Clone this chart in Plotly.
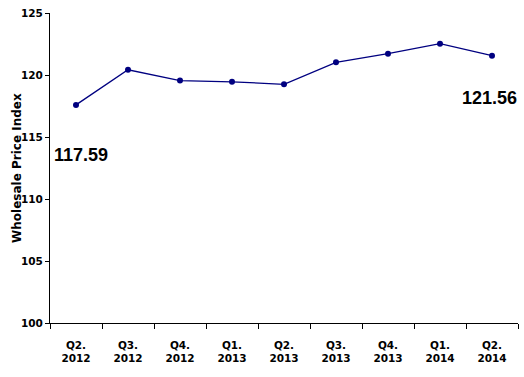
import plotly.graph_objects as go

categories = ["Q2.<br>2012", "Q3.<br>2012", "Q4.<br>2012", "Q1.<br>2013", "Q2.<br>2013",
              "Q3.<br>2013", "Q4.<br>2013", "Q1.<br>2014", "Q2.<br>2014"]
values = [117.59, 120.42, 119.55, 119.45, 119.25, 121.02, 121.72, 122.53, 121.56]
y_ticks = [100, 105, 110, 115, 120, 125]
y_title = "Wholesale Price Index"

fig = go.Figure()
fig.add_trace(go.Scatter(
    x=categories, y=values, mode="lines+markers",
    line=dict(color="#000080", width=1.3),
    marker=dict(color="#000080", size=6),
    hoverinfo="skip", showlegend=False,
))

label_font = dict(family="Liberation Sans", size=18, color="black", weight="bold")
fig.add_annotation(x=categories[0], y=values[0], text="117.59", showarrow=False,
                   xshift=5, yshift=-50, font=label_font)
fig.add_annotation(x=categories[-1], y=values[-1], text="121.56", showarrow=False,
                   xshift=-3, yshift=-42, font=label_font)
fig.add_annotation(xref="paper", yref="paper", x=0, y=0.5, xshift=-33, text=y_title,
                   textangle=-90, showarrow=False, xanchor="center", yanchor="middle",
                   font=dict(family="DejaVu Sans", size=12, color="black", weight="bold"))

tick_font = dict(family="DejaVu Sans", size=10.5, color="black", weight="bold")
fig.update_layout(
    width=524, height=377,
    margin=dict(l=50, r=6, t=13, b=54),
    paper_bgcolor="white", plot_bgcolor="white",
    font=dict(family="DejaVu Sans", color="black"),
)
fig.update_xaxes(
    type="category", tickson="boundaries", ticks="outside", ticklen=5, tickcolor="black",
    showline=True, linecolor="black", linewidth=1, showgrid=False, zeroline=False,
    tickfont=tick_font, ticklabelstandoff=12,
    range=[-0.5, 8.5], automargin=False,
)
fig.update_yaxes(
    range=[100, 125], tickvals=y_ticks, ticks="outside", ticklen=4, tickcolor="black",
    showline=True, linecolor="black", linewidth=1, showgrid=False, zeroline=False,
    tickfont=tick_font, automargin=False,
)

fig.write_html("out.html", config={"displayModeBar": False},
               post_script="document.body.style.margin='0';document.body.style.overflow='hidden';")
